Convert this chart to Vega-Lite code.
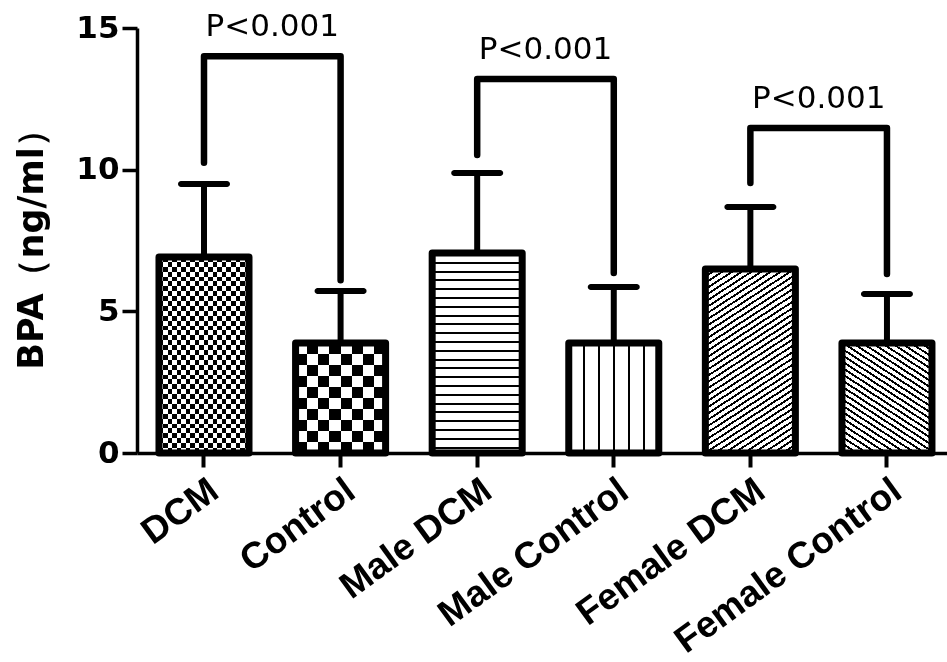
{
"$schema":"https://vega.github.io/schema/vega-lite/v6.json",
"width":810,"height":425,
"autosize":{"type":"none"},
"padding":{"left":137,"top":28,"right":0,"bottom":209},
"background":"white",
"config":{"view":{"stroke":null},
"axisX":{"domainColor":"black","domainWidth":3.5,"tickColor":"black","tickWidth":4,"tickSize":14,"labelAngle":-36,"labelAlign":"right","labelBaseline":"top","labelFont":"Liberation Sans","labelFontWeight":"bold","labelFontSize":37,"labelColor":"black","labelPadding":5,"labelLimit":500,"grid":false},
"axisY":{"titleFont":"DejaVu Sans","titleFontWeight":"bold","titleFontSize":35,"titleColor":"black","titlePadding":26,"grid":false,"domainColor":"black","domainWidth":3.5,"tickColor":"black","tickWidth":3.5,"tickSize":15,"labelFont":"DejaVu Sans","labelFontWeight":"bold","labelFontSize":31,"labelColor":"black","labelPadding":3}
},
"datasets":{
"bars":[
{"group":"DCM","mean":6.92,"upper":9.49},
{"group":"Control","mean":3.88,"upper":5.72},
{"group":"Male DCM","mean":7.06,"upper":9.88},
{"group":"Male Control","mean":3.88,"upper":5.86},
{"group":"Female DCM","mean":6.49,"upper":8.68},
{"group":"Female Control","mean":3.88,"upper":5.61}
],
"brackets":[
{"bracket":"b1","seq":1,"group":"DCM","value":10.24},
{"bracket":"b1","seq":2,"group":"DCM","value":14.0},
{"bracket":"b1","seq":3,"group":"Control","value":14.0},
{"bracket":"b1","seq":4,"group":"Control","value":6.1},
{"bracket":"b2","seq":1,"group":"Male DCM","value":10.52},
{"bracket":"b2","seq":2,"group":"Male DCM","value":13.2},
{"bracket":"b2","seq":3,"group":"Male Control","value":13.2},
{"bracket":"b2","seq":4,"group":"Male Control","value":6.35},
{"bracket":"b3","seq":1,"group":"Female DCM","value":9.53},
{"bracket":"b3","seq":2,"group":"Female DCM","value":11.47},
{"bracket":"b3","seq":3,"group":"Female Control","value":11.47},
{"bracket":"b3","seq":4,"group":"Female Control","value":6.32}
],
"pvalues":[
{"group":"DCM","top":14.0,"label":"P<0.001"},
{"group":"Male DCM","top":13.2,"label":"P<0.001"},
{"group":"Female DCM","top":11.47,"label":"P<0.001"}
]
},
"encoding":{
"x":{"field":"group","type":"nominal",
"scale":{"domain":["DCM","Control","Male DCM","Male Control","Female DCM","Female Control"],"paddingInner":0.341,"paddingOuter":0.1355,"align":0.594},
"axis":{"title":null}}
},
"layer":[
{"data":{"name":"bars"},"transform":[{"filter":"datum.group === 'DCM'"}],
"mark":{"type":"bar","strokeWidth":0,"fill":{"gradient":"linear","x1":0,"y1":0,"x2":0,"y2":1,"stops":[{"offset":0,"color":"#000"},{"offset":0.025,"color":"#000"},{"offset":0.025,"color":"#fff"},{"offset":0.05,"color":"#fff"},{"offset":0.05,"color":"#000"},{"offset":0.075,"color":"#000"},{"offset":0.075,"color":"#fff"},{"offset":0.1,"color":"#fff"},{"offset":0.1,"color":"#000"},{"offset":0.125,"color":"#000"},{"offset":0.125,"color":"#fff"},{"offset":0.15,"color":"#fff"},{"offset":0.15,"color":"#000"},{"offset":0.175,"color":"#000"},{"offset":0.175,"color":"#fff"},{"offset":0.2,"color":"#fff"},{"offset":0.2,"color":"#000"},{"offset":0.225,"color":"#000"},{"offset":0.225,"color":"#fff"},{"offset":0.25,"color":"#fff"},{"offset":0.25,"color":"#000"},{"offset":0.275,"color":"#000"},{"offset":0.275,"color":"#fff"},{"offset":0.3,"color":"#fff"},{"offset":0.3,"color":"#000"},{"offset":0.325,"color":"#000"},{"offset":0.325,"color":"#fff"},{"offset":0.35,"color":"#fff"},{"offset":0.35,"color":"#000"},{"offset":0.375,"color":"#000"},{"offset":0.375,"color":"#fff"},{"offset":0.4,"color":"#fff"},{"offset":0.4,"color":"#000"},{"offset":0.425,"color":"#000"},{"offset":0.425,"color":"#fff"},{"offset":0.45,"color":"#fff"},{"offset":0.45,"color":"#000"},{"offset":0.475,"color":"#000"},{"offset":0.475,"color":"#fff"},{"offset":0.5,"color":"#fff"},{"offset":0.5,"color":"#000"},{"offset":0.525,"color":"#000"},{"offset":0.525,"color":"#fff"},{"offset":0.55,"color":"#fff"},{"offset":0.55,"color":"#000"},{"offset":0.575,"color":"#000"},{"offset":0.575,"color":"#fff"},{"offset":0.6,"color":"#fff"},{"offset":0.6,"color":"#000"},{"offset":0.625,"color":"#000"},{"offset":0.625,"color":"#fff"},{"offset":0.65,"color":"#fff"},{"offset":0.65,"color":"#000"},{"offset":0.675,"color":"#000"},{"offset":0.675,"color":"#fff"},{"offset":0.7,"color":"#fff"},{"offset":0.7,"color":"#000"},{"offset":0.725,"color":"#000"},{"offset":0.725,"color":"#fff"},{"offset":0.75,"color":"#fff"},{"offset":0.75,"color":"#000"},{"offset":0.775,"color":"#000"},{"offset":0.775,"color":"#fff"},{"offset":0.8,"color":"#fff"},{"offset":0.8,"color":"#000"},{"offset":0.825,"color":"#000"},{"offset":0.825,"color":"#fff"},{"offset":0.85,"color":"#fff"},{"offset":0.85,"color":"#000"},{"offset":0.875,"color":"#000"},{"offset":0.875,"color":"#fff"},{"offset":0.9,"color":"#fff"},{"offset":0.9,"color":"#000"},{"offset":0.925,"color":"#000"},{"offset":0.925,"color":"#fff"},{"offset":0.95,"color":"#fff"},{"offset":0.95,"color":"#000"},{"offset":0.975,"color":"#000"},{"offset":0.975,"color":"#fff"},{"offset":1,"color":"#fff"}]}},
"encoding":{"y":{"field":"mean","type":"quantitative","scale":{"domain":[0,15],"nice":false},
"axis":{"title":"BPA（ng/ml）","values":[0,5,10,15]}}}},
{"data":{"name":"bars"},"transform":[{"filter":"datum.group === 'DCM'"}],
"mark":{"type":"bar","strokeWidth":0,"blend":"difference","fill":{"gradient":"linear","x1":0,"y1":0,"x2":1,"y2":0,"stops":[{"offset":0,"color":"#fff"},{"offset":0.05,"color":"#fff"},{"offset":0.05,"color":"#000"},{"offset":0.1,"color":"#000"},{"offset":0.1,"color":"#fff"},{"offset":0.15,"color":"#fff"},{"offset":0.15,"color":"#000"},{"offset":0.2,"color":"#000"},{"offset":0.2,"color":"#fff"},{"offset":0.25,"color":"#fff"},{"offset":0.25,"color":"#000"},{"offset":0.3,"color":"#000"},{"offset":0.3,"color":"#fff"},{"offset":0.35,"color":"#fff"},{"offset":0.35,"color":"#000"},{"offset":0.4,"color":"#000"},{"offset":0.4,"color":"#fff"},{"offset":0.45,"color":"#fff"},{"offset":0.45,"color":"#000"},{"offset":0.5,"color":"#000"},{"offset":0.5,"color":"#fff"},{"offset":0.55,"color":"#fff"},{"offset":0.55,"color":"#000"},{"offset":0.6,"color":"#000"},{"offset":0.6,"color":"#fff"},{"offset":0.65,"color":"#fff"},{"offset":0.65,"color":"#000"},{"offset":0.7,"color":"#000"},{"offset":0.7,"color":"#fff"},{"offset":0.75,"color":"#fff"},{"offset":0.75,"color":"#000"},{"offset":0.8,"color":"#000"},{"offset":0.8,"color":"#fff"},{"offset":0.85,"color":"#fff"},{"offset":0.85,"color":"#000"},{"offset":0.9,"color":"#000"},{"offset":0.9,"color":"#fff"},{"offset":0.95,"color":"#fff"},{"offset":0.95,"color":"#000"},{"offset":1,"color":"#000"}]}},
"encoding":{"y":{"field":"mean","type":"quantitative"}}},
{"data":{"name":"bars"},"transform":[{"filter":"datum.group === 'Control'"}],
"mark":{"type":"bar","strokeWidth":0,"fill":{"gradient":"linear","x1":0,"y1":0,"x2":0,"y2":1,"stops":[{"offset":0,"color":"#000"},{"offset":0.1,"color":"#000"},{"offset":0.1,"color":"#fff"},{"offset":0.2,"color":"#fff"},{"offset":0.2,"color":"#000"},{"offset":0.3,"color":"#000"},{"offset":0.3,"color":"#fff"},{"offset":0.4,"color":"#fff"},{"offset":0.4,"color":"#000"},{"offset":0.5,"color":"#000"},{"offset":0.5,"color":"#fff"},{"offset":0.6,"color":"#fff"},{"offset":0.6,"color":"#000"},{"offset":0.7,"color":"#000"},{"offset":0.7,"color":"#fff"},{"offset":0.8,"color":"#fff"},{"offset":0.8,"color":"#000"},{"offset":0.9,"color":"#000"},{"offset":0.9,"color":"#fff"},{"offset":1,"color":"#fff"}]}},
"encoding":{"y":{"field":"mean","type":"quantitative"}}},
{"data":{"name":"bars"},"transform":[{"filter":"datum.group === 'Control'"}],
"mark":{"type":"bar","strokeWidth":0,"blend":"difference","fill":{"gradient":"linear","x1":0,"y1":0,"x2":1,"y2":0,"stops":[{"offset":0,"color":"#fff"},{"offset":0.125,"color":"#fff"},{"offset":0.125,"color":"#000"},{"offset":0.25,"color":"#000"},{"offset":0.25,"color":"#fff"},{"offset":0.375,"color":"#fff"},{"offset":0.375,"color":"#000"},{"offset":0.5,"color":"#000"},{"offset":0.5,"color":"#fff"},{"offset":0.625,"color":"#fff"},{"offset":0.625,"color":"#000"},{"offset":0.75,"color":"#000"},{"offset":0.75,"color":"#fff"},{"offset":0.875,"color":"#fff"},{"offset":0.875,"color":"#000"},{"offset":1,"color":"#000"}]}},
"encoding":{"y":{"field":"mean","type":"quantitative"}}},
{"data":{"name":"bars"},"transform":[{"filter":"datum.group === 'Male DCM'"}],
"mark":{"type":"bar","strokeWidth":0,"fill":{"gradient":"linear","x1":0,"y1":0,"x2":0,"y2":1.1,"stops":[{"offset":0,"color":"#fff"},{"offset":0.04,"color":"#fff"},{"offset":0.04,"color":"#000"},{"offset":0.049,"color":"#000"},{"offset":0.049,"color":"#fff"},{"offset":0.08,"color":"#fff"},{"offset":0.08,"color":"#000"},{"offset":0.089,"color":"#000"},{"offset":0.089,"color":"#fff"},{"offset":0.12,"color":"#fff"},{"offset":0.12,"color":"#000"},{"offset":0.129,"color":"#000"},{"offset":0.129,"color":"#fff"},{"offset":0.16,"color":"#fff"},{"offset":0.16,"color":"#000"},{"offset":0.169,"color":"#000"},{"offset":0.169,"color":"#fff"},{"offset":0.2,"color":"#fff"},{"offset":0.2,"color":"#000"},{"offset":0.209,"color":"#000"},{"offset":0.209,"color":"#fff"},{"offset":0.24,"color":"#fff"},{"offset":0.24,"color":"#000"},{"offset":0.249,"color":"#000"},{"offset":0.249,"color":"#fff"},{"offset":0.28,"color":"#fff"},{"offset":0.28,"color":"#000"},{"offset":0.289,"color":"#000"},{"offset":0.289,"color":"#fff"},{"offset":0.32,"color":"#fff"},{"offset":0.32,"color":"#000"},{"offset":0.329,"color":"#000"},{"offset":0.329,"color":"#fff"},{"offset":0.36,"color":"#fff"},{"offset":0.36,"color":"#000"},{"offset":0.369,"color":"#000"},{"offset":0.369,"color":"#fff"},{"offset":0.4,"color":"#fff"},{"offset":0.4,"color":"#000"},{"offset":0.409,"color":"#000"},{"offset":0.409,"color":"#fff"},{"offset":0.44,"color":"#fff"},{"offset":0.44,"color":"#000"},{"offset":0.449,"color":"#000"},{"offset":0.449,"color":"#fff"},{"offset":0.48,"color":"#fff"},{"offset":0.48,"color":"#000"},{"offset":0.489,"color":"#000"},{"offset":0.489,"color":"#fff"},{"offset":0.52,"color":"#fff"},{"offset":0.52,"color":"#000"},{"offset":0.529,"color":"#000"},{"offset":0.529,"color":"#fff"},{"offset":0.56,"color":"#fff"},{"offset":0.56,"color":"#000"},{"offset":0.569,"color":"#000"},{"offset":0.569,"color":"#fff"},{"offset":0.6,"color":"#fff"},{"offset":0.6,"color":"#000"},{"offset":0.609,"color":"#000"},{"offset":0.609,"color":"#fff"},{"offset":0.64,"color":"#fff"},{"offset":0.64,"color":"#000"},{"offset":0.649,"color":"#000"},{"offset":0.649,"color":"#fff"},{"offset":0.68,"color":"#fff"},{"offset":0.68,"color":"#000"},{"offset":0.689,"color":"#000"},{"offset":0.689,"color":"#fff"},{"offset":0.72,"color":"#fff"},{"offset":0.72,"color":"#000"},{"offset":0.729,"color":"#000"},{"offset":0.729,"color":"#fff"},{"offset":0.76,"color":"#fff"},{"offset":0.76,"color":"#000"},{"offset":0.769,"color":"#000"},{"offset":0.769,"color":"#fff"},{"offset":0.8,"color":"#fff"},{"offset":0.8,"color":"#000"},{"offset":0.809,"color":"#000"},{"offset":0.809,"color":"#fff"},{"offset":0.84,"color":"#fff"},{"offset":0.84,"color":"#000"},{"offset":0.849,"color":"#000"},{"offset":0.849,"color":"#fff"},{"offset":0.88,"color":"#fff"},{"offset":0.88,"color":"#000"},{"offset":0.889,"color":"#000"},{"offset":0.889,"color":"#fff"},{"offset":1,"color":"#fff"}]}},
"encoding":{"y":{"field":"mean","type":"quantitative"}}},
{"data":{"name":"bars"},"transform":[{"filter":"datum.group === 'Male Control'"}],
"mark":{"type":"bar","strokeWidth":0,"fill":{"gradient":"linear","x1":0,"y1":0,"x2":1,"y2":0,"stops":[{"offset":0,"color":"#fff"},{"offset":0.155,"color":"#fff"},{"offset":0.155,"color":"#000"},{"offset":0.178,"color":"#000"},{"offset":0.178,"color":"#fff"},{"offset":0.322,"color":"#fff"},{"offset":0.322,"color":"#000"},{"offset":0.345,"color":"#000"},{"offset":0.345,"color":"#fff"},{"offset":0.489,"color":"#fff"},{"offset":0.489,"color":"#000"},{"offset":0.511,"color":"#000"},{"offset":0.511,"color":"#fff"},{"offset":0.655,"color":"#fff"},{"offset":0.655,"color":"#000"},{"offset":0.678,"color":"#000"},{"offset":0.678,"color":"#fff"},{"offset":0.822,"color":"#fff"},{"offset":0.822,"color":"#000"},{"offset":0.845,"color":"#000"},{"offset":0.845,"color":"#fff"},{"offset":1,"color":"#fff"}]}},
"encoding":{"y":{"field":"mean","type":"quantitative"}}},
{"data":{"name":"bars"},"transform":[{"filter":"datum.group === 'Female DCM'"}],
"mark":{"type":"bar","strokeWidth":0,"fill":{"gradient":"linear","x1":0,"y1":0,"x2":0.3955,"y2":1.2438,"stops":[{"offset":0,"color":"#fff"},{"offset":0.025,"color":"#fff"},{"offset":0.025,"color":"#000"},{"offset":0.034,"color":"#000"},{"offset":0.034,"color":"#fff"},{"offset":0.05,"color":"#fff"},{"offset":0.05,"color":"#000"},{"offset":0.059,"color":"#000"},{"offset":0.059,"color":"#fff"},{"offset":0.075,"color":"#fff"},{"offset":0.075,"color":"#000"},{"offset":0.084,"color":"#000"},{"offset":0.084,"color":"#fff"},{"offset":0.1,"color":"#fff"},{"offset":0.1,"color":"#000"},{"offset":0.109,"color":"#000"},{"offset":0.109,"color":"#fff"},{"offset":0.125,"color":"#fff"},{"offset":0.125,"color":"#000"},{"offset":0.134,"color":"#000"},{"offset":0.134,"color":"#fff"},{"offset":0.15,"color":"#fff"},{"offset":0.15,"color":"#000"},{"offset":0.159,"color":"#000"},{"offset":0.159,"color":"#fff"},{"offset":0.175,"color":"#fff"},{"offset":0.175,"color":"#000"},{"offset":0.184,"color":"#000"},{"offset":0.184,"color":"#fff"},{"offset":0.2,"color":"#fff"},{"offset":0.2,"color":"#000"},{"offset":0.209,"color":"#000"},{"offset":0.209,"color":"#fff"},{"offset":0.225,"color":"#fff"},{"offset":0.225,"color":"#000"},{"offset":0.234,"color":"#000"},{"offset":0.234,"color":"#fff"},{"offset":0.25,"color":"#fff"},{"offset":0.25,"color":"#000"},{"offset":0.259,"color":"#000"},{"offset":0.259,"color":"#fff"},{"offset":0.275,"color":"#fff"},{"offset":0.275,"color":"#000"},{"offset":0.284,"color":"#000"},{"offset":0.284,"color":"#fff"},{"offset":0.3,"color":"#fff"},{"offset":0.3,"color":"#000"},{"offset":0.309,"color":"#000"},{"offset":0.309,"color":"#fff"},{"offset":0.325,"color":"#fff"},{"offset":0.325,"color":"#000"},{"offset":0.334,"color":"#000"},{"offset":0.334,"color":"#fff"},{"offset":0.35,"color":"#fff"},{"offset":0.35,"color":"#000"},{"offset":0.359,"color":"#000"},{"offset":0.359,"color":"#fff"},{"offset":0.375,"color":"#fff"},{"offset":0.375,"color":"#000"},{"offset":0.384,"color":"#000"},{"offset":0.384,"color":"#fff"},{"offset":0.4,"color":"#fff"},{"offset":0.4,"color":"#000"},{"offset":0.409,"color":"#000"},{"offset":0.409,"color":"#fff"},{"offset":0.425,"color":"#fff"},{"offset":0.425,"color":"#000"},{"offset":0.434,"color":"#000"},{"offset":0.434,"color":"#fff"},{"offset":0.45,"color":"#fff"},{"offset":0.45,"color":"#000"},{"offset":0.459,"color":"#000"},{"offset":0.459,"color":"#fff"},{"offset":0.475,"color":"#fff"},{"offset":0.475,"color":"#000"},{"offset":0.484,"color":"#000"},{"offset":0.484,"color":"#fff"},{"offset":0.5,"color":"#fff"},{"offset":0.5,"color":"#000"},{"offset":0.509,"color":"#000"},{"offset":0.509,"color":"#fff"},{"offset":0.525,"color":"#fff"},{"offset":0.525,"color":"#000"},{"offset":0.534,"color":"#000"},{"offset":0.534,"color":"#fff"},{"offset":0.55,"color":"#fff"},{"offset":0.55,"color":"#000"},{"offset":0.559,"color":"#000"},{"offset":0.559,"color":"#fff"},{"offset":0.575,"color":"#fff"},{"offset":0.575,"color":"#000"},{"offset":0.584,"color":"#000"},{"offset":0.584,"color":"#fff"},{"offset":0.6,"color":"#fff"},{"offset":0.6,"color":"#000"},{"offset":0.609,"color":"#000"},{"offset":0.609,"color":"#fff"},{"offset":0.625,"color":"#fff"},{"offset":0.625,"color":"#000"},{"offset":0.634,"color":"#000"},{"offset":0.634,"color":"#fff"},{"offset":0.65,"color":"#fff"},{"offset":0.65,"color":"#000"},{"offset":0.659,"color":"#000"},{"offset":0.659,"color":"#fff"},{"offset":0.675,"color":"#fff"},{"offset":0.675,"color":"#000"},{"offset":0.684,"color":"#000"},{"offset":0.684,"color":"#fff"},{"offset":0.7,"color":"#fff"},{"offset":0.7,"color":"#000"},{"offset":0.709,"color":"#000"},{"offset":0.709,"color":"#fff"},{"offset":0.725,"color":"#fff"},{"offset":0.725,"color":"#000"},{"offset":0.734,"color":"#000"},{"offset":0.734,"color":"#fff"},{"offset":0.75,"color":"#fff"},{"offset":0.75,"color":"#000"},{"offset":0.759,"color":"#000"},{"offset":0.759,"color":"#fff"},{"offset":0.775,"color":"#fff"},{"offset":0.775,"color":"#000"},{"offset":0.784,"color":"#000"},{"offset":0.784,"color":"#fff"},{"offset":0.8,"color":"#fff"},{"offset":0.8,"color":"#000"},{"offset":0.809,"color":"#000"},{"offset":0.809,"color":"#fff"},{"offset":0.825,"color":"#fff"},{"offset":0.825,"color":"#000"},{"offset":0.834,"color":"#000"},{"offset":0.834,"color":"#fff"},{"offset":0.85,"color":"#fff"},{"offset":0.85,"color":"#000"},{"offset":0.859,"color":"#000"},{"offset":0.859,"color":"#fff"},{"offset":0.875,"color":"#fff"},{"offset":0.875,"color":"#000"},{"offset":0.884,"color":"#000"},{"offset":0.884,"color":"#fff"},{"offset":0.9,"color":"#fff"},{"offset":0.9,"color":"#000"},{"offset":0.909,"color":"#000"},{"offset":0.909,"color":"#fff"},{"offset":0.925,"color":"#fff"},{"offset":0.925,"color":"#000"},{"offset":0.934,"color":"#000"},{"offset":0.934,"color":"#fff"},{"offset":0.95,"color":"#fff"},{"offset":0.95,"color":"#000"},{"offset":0.959,"color":"#000"},{"offset":0.959,"color":"#fff"},{"offset":1,"color":"#fff"}]}},
"encoding":{"y":{"field":"mean","type":"quantitative"}}},
{"data":{"name":"bars"},"transform":[{"filter":"datum.group === 'Female Control'"}],
"mark":{"type":"bar","strokeWidth":0,"fill":{"gradient":"linear","x1":1,"y1":0,"x2":0.0503,"y2":1.7859,"stops":[{"offset":0,"color":"#fff"},{"offset":0.025,"color":"#fff"},{"offset":0.025,"color":"#000"},{"offset":0.034,"color":"#000"},{"offset":0.034,"color":"#fff"},{"offset":0.05,"color":"#fff"},{"offset":0.05,"color":"#000"},{"offset":0.059,"color":"#000"},{"offset":0.059,"color":"#fff"},{"offset":0.075,"color":"#fff"},{"offset":0.075,"color":"#000"},{"offset":0.084,"color":"#000"},{"offset":0.084,"color":"#fff"},{"offset":0.1,"color":"#fff"},{"offset":0.1,"color":"#000"},{"offset":0.109,"color":"#000"},{"offset":0.109,"color":"#fff"},{"offset":0.125,"color":"#fff"},{"offset":0.125,"color":"#000"},{"offset":0.134,"color":"#000"},{"offset":0.134,"color":"#fff"},{"offset":0.15,"color":"#fff"},{"offset":0.15,"color":"#000"},{"offset":0.159,"color":"#000"},{"offset":0.159,"color":"#fff"},{"offset":0.175,"color":"#fff"},{"offset":0.175,"color":"#000"},{"offset":0.184,"color":"#000"},{"offset":0.184,"color":"#fff"},{"offset":0.2,"color":"#fff"},{"offset":0.2,"color":"#000"},{"offset":0.209,"color":"#000"},{"offset":0.209,"color":"#fff"},{"offset":0.225,"color":"#fff"},{"offset":0.225,"color":"#000"},{"offset":0.234,"color":"#000"},{"offset":0.234,"color":"#fff"},{"offset":0.25,"color":"#fff"},{"offset":0.25,"color":"#000"},{"offset":0.259,"color":"#000"},{"offset":0.259,"color":"#fff"},{"offset":0.275,"color":"#fff"},{"offset":0.275,"color":"#000"},{"offset":0.284,"color":"#000"},{"offset":0.284,"color":"#fff"},{"offset":0.3,"color":"#fff"},{"offset":0.3,"color":"#000"},{"offset":0.309,"color":"#000"},{"offset":0.309,"color":"#fff"},{"offset":0.325,"color":"#fff"},{"offset":0.325,"color":"#000"},{"offset":0.334,"color":"#000"},{"offset":0.334,"color":"#fff"},{"offset":0.35,"color":"#fff"},{"offset":0.35,"color":"#000"},{"offset":0.359,"color":"#000"},{"offset":0.359,"color":"#fff"},{"offset":0.375,"color":"#fff"},{"offset":0.375,"color":"#000"},{"offset":0.384,"color":"#000"},{"offset":0.384,"color":"#fff"},{"offset":0.4,"color":"#fff"},{"offset":0.4,"color":"#000"},{"offset":0.409,"color":"#000"},{"offset":0.409,"color":"#fff"},{"offset":0.425,"color":"#fff"},{"offset":0.425,"color":"#000"},{"offset":0.434,"color":"#000"},{"offset":0.434,"color":"#fff"},{"offset":0.45,"color":"#fff"},{"offset":0.45,"color":"#000"},{"offset":0.459,"color":"#000"},{"offset":0.459,"color":"#fff"},{"offset":0.475,"color":"#fff"},{"offset":0.475,"color":"#000"},{"offset":0.484,"color":"#000"},{"offset":0.484,"color":"#fff"},{"offset":0.5,"color":"#fff"},{"offset":0.5,"color":"#000"},{"offset":0.509,"color":"#000"},{"offset":0.509,"color":"#fff"},{"offset":0.525,"color":"#fff"},{"offset":0.525,"color":"#000"},{"offset":0.534,"color":"#000"},{"offset":0.534,"color":"#fff"},{"offset":0.55,"color":"#fff"},{"offset":0.55,"color":"#000"},{"offset":0.559,"color":"#000"},{"offset":0.559,"color":"#fff"},{"offset":0.575,"color":"#fff"},{"offset":0.575,"color":"#000"},{"offset":0.584,"color":"#000"},{"offset":0.584,"color":"#fff"},{"offset":0.6,"color":"#fff"},{"offset":0.6,"color":"#000"},{"offset":0.609,"color":"#000"},{"offset":0.609,"color":"#fff"},{"offset":0.625,"color":"#fff"},{"offset":0.625,"color":"#000"},{"offset":0.634,"color":"#000"},{"offset":0.634,"color":"#fff"},{"offset":0.65,"color":"#fff"},{"offset":0.65,"color":"#000"},{"offset":0.659,"color":"#000"},{"offset":0.659,"color":"#fff"},{"offset":1,"color":"#fff"}]}},
"encoding":{"y":{"field":"mean","type":"quantitative"}}},
{"data":{"name":"bars"},
"mark":{"type":"bar","fill":"transparent","stroke":"black","strokeWidth":7,"strokeJoin":"round"},
"encoding":{"y":{"field":"mean","type":"quantitative"}}},
{"data":{"name":"bars"},
"mark":{"type":"rule","color":"black","strokeWidth":6},
"encoding":{"y":{"field":"mean","type":"quantitative"},"y2":{"field":"upper"}}},
{"data":{"name":"bars"},
"mark":{"type":"tick","color":"black","size":52,"thickness":6,"cornerRadius":3,"opacity":1},
"encoding":{"y":{"field":"upper","type":"quantitative"}}},
{"data":{"name":"brackets"},
"mark":{"type":"line","color":"black","strokeWidth":6.5,"strokeCap":"round","strokeJoin":"round"},
"encoding":{"y":{"field":"value","type":"quantitative"},"detail":{"field":"bracket"},"order":{"field":"seq","type":"quantitative"}}},
{"data":{"name":"pvalues"},
"mark":{"type":"text","font":"DejaVu Sans","fontSize":31,"color":"black","baseline":"alphabetic","align":"center","dy":-20},
"encoding":{"x":{"field":"group","type":"nominal","bandPosition":1.259,"scale":{"domain":["DCM","Control","Male DCM","Male Control","Female DCM","Female Control"],"paddingInner":0.341,"paddingOuter":0.1355,"align":0.594},"axis":{"title":null}},
"y":{"field":"top","type":"quantitative"},"text":{"field":"label"}}}
]
}
